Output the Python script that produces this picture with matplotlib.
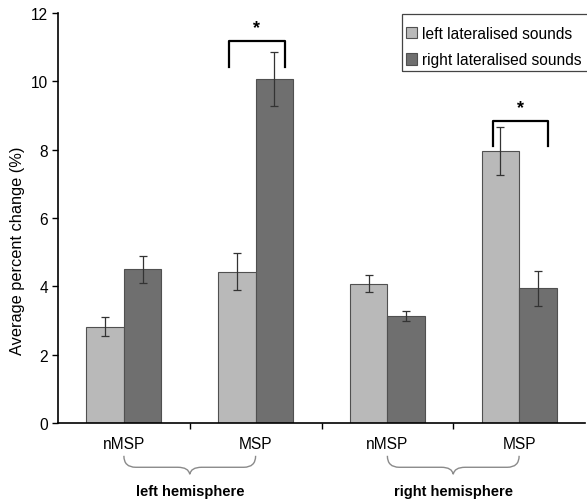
import matplotlib
matplotlib.use("Agg")
import matplotlib.pyplot as plt
from matplotlib.path import Path
from matplotlib.patches import PathPatch, Rectangle
import matplotlib.transforms as mtransforms
import numpy as np

plt.rcParams['font.family'] = ['Liberation Sans', 'DejaVu Sans']

conditions = ["nMSP", "MSP", "nMSP", "MSP"]
hemispheres = ["left hemisphere", "right hemisphere"]
series_names = ["left lateralised sounds", "right lateralised sounds"]
left_vals = [2.82, 4.43, 4.08, 7.96]
left_err = [0.28, 0.54, 0.26, 0.69]
right_vals = [4.50, 10.08, 3.14, 3.94]
right_err = [0.39, 0.79, 0.15, 0.51]
yticks = [0, 2, 4, 6, 8, 10, 12]
sig_groups = [1, 3]
sig_heights = [11.19, 8.85]
sig_leg_bottom = [10.41, 8.10]

light = "#b9b9b9"
dark = "#6f6f6f"
edge = "#505050"

fig = plt.figure(figsize=(5.87, 5.02), dpi=100)
ax = fig.add_axes([58/587, 1-424/502, (585-58)/587, (424-14)/502])

x = np.arange(len(conditions)) + 0.5
w = 0.285
ekw = dict(elinewidth=0.9, capthick=0.9, ecolor="#333333")
ax.bar(x - w/2, left_vals, w, yerr=left_err, color=light, edgecolor=edge,
       linewidth=0.8, capsize=3, error_kw=ekw, label=series_names[0], zorder=2)
ax.bar(x + w/2, right_vals, w, yerr=right_err, color=dark, edgecolor=edge,
       linewidth=0.8, capsize=3, error_kw=ekw, label=series_names[1], zorder=2)

ax.set_xlim(0, 4)
ax.set_ylim(0, 12)
ax.set_yticks(yticks)
ax.tick_params(axis='y', labelsize=11.2, length=4, width=1, direction='out', pad=3)
ax.set_xticks([1, 2, 3])
ax.set_xticklabels([])
ax.tick_params(axis='x', length=4, width=1, direction='out')
for s in ['top', 'right']:
    ax.spines[s].set_visible(False)
for s in ['left', 'bottom']:
    ax.spines[s].set_linewidth(1.2)
ax.set_ylabel("Average percent change (%)", fontsize=11.8)
ax.yaxis.set_label_coords(25/587, 0.5, transform=fig.transFigure)

trans = mtransforms.blended_transform_factory(ax.transData, ax.transAxes)
for xi, lab in zip(x, conditions):
    ax.text(xi, -0.051, lab, transform=trans, ha='center', va='center', fontsize=11.2)

def brace(x0, x1, ytop, ymid, ybot, eps):
    xc = (x0 + x1) / 2
    verts = [(x0, ytop), (x0, ymid), (x0 + eps, ymid), (x0 + eps, ymid),
             (xc - eps, ymid), (xc - eps*0.1, ymid), (xc, ybot),
             (xc + eps*0.1, ymid), (xc + eps, ymid),
             (x1 - eps, ymid), (x1 - eps, ymid), (x1, ymid), (x1, ytop)]
    codes = [Path.MOVETO, Path.CURVE3, Path.CURVE3, Path.LINETO,
             Path.LINETO, Path.CURVE3, Path.CURVE3, Path.CURVE3, Path.CURVE3,
             Path.LINETO, Path.LINETO, Path.CURVE3, Path.CURVE3]
    p = PathPatch(Path(verts, codes), transform=trans, fill=False,
                  edgecolor="#8a8a8a", linewidth=1.0, clip_on=False)
    ax.add_patch(p)

for g, hname in enumerate(hemispheres):
    x0 = x[2*g]
    x1 = x[2*g + 1]
    brace(x0, x1, -0.080, -0.108, -0.125, 0.09)
    ax.text((x0 + x1)/2, -0.166, hname, transform=trans, ha='center', va='center',
            fontsize=10.5, fontweight='bold')

for g, h, lb in zip(sig_groups, sig_heights, sig_leg_bottom):
    xa = x[g] - 0.20
    xb = x[g] + 0.22
    ax.plot([xa, xa, xb, xb], [lb, h, h, lb], color='black', linewidth=1.6,
            clip_on=False, zorder=3)
    ax.text((xa + xb)/2, h + 0.12, "*", ha='center', va='bottom', fontsize=13,
            fontweight='bold')

leg = ax.legend(loc='upper left', bbox_to_anchor=(401/587, 1-22/502),
                bbox_transform=fig.transFigure, fontsize=11.2, frameon=False,
                handlelength=0.75, handleheight=0.75, handletextpad=0.3,
                borderpad=0.3, labelspacing=0.75, borderaxespad=0)

# legend frame (extends past the right edge as in the reference)
fig.patches.append(Rectangle((402/587, 1-72/502), 250/587, 57/502,
                             transform=fig.transFigure, fill=False,
                             edgecolor="#444444", linewidth=0.9))

fig.savefig("out.png", dpi=100)
